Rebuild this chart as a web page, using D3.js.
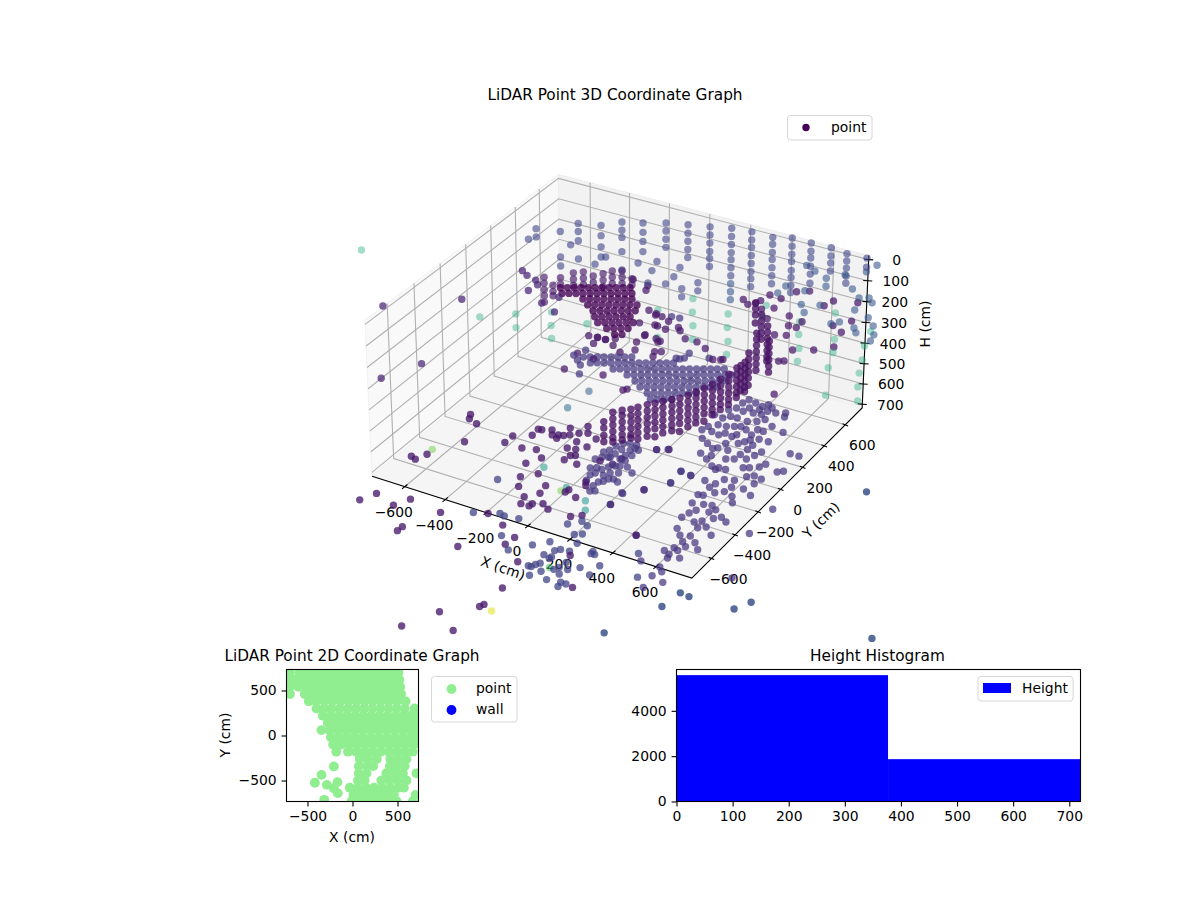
<!DOCTYPE html>
<html>
<head>
<meta charset="utf-8">
<style>
body { margin: 0; background: #fff; }
text { font-family: "DejaVu Sans", sans-serif; fill: #000; }
</style>
<script src="https://cdn.jsdelivr.net/npm/d3@7"></script>
</head>
<body>
<svg id="chart" width="1200" height="900"></svg>
<script>
// tick values
const xyTicks = [-600, -400, -200, 0, 200, 400, 600]
const hTicks = [0, 100, 200, 300, 400, 500, 600, 700]
const planTicks = [-500, 0, 500]
const histXTicks = [0, 100, 200, 300, 400, 500, 600, 700]
const histYTicks = [0, 2000, 4000]

// histogram: bin edges and counts
const histEdges = [0, 377, 720]
const histCounts = [5574, 1868]

// plane heights (cm) used by the lists of [x, y] pairs below
const floorH = 700
const midH = 400
const topH = 100

// columns of scan points: [x, y, [heights]]
const wallColumns = [
  [-402,700,[94,134,169,239,329]],[-296,700,[72,117,161,211]],[-181,700,[42,81,121,160]],
  [-72,700,[23,63,102,142,181]],[36,700,[5,44,83,123,157,196]],[120,740,[8,47,86,125,159,198,237]],
  [218,740,[0,39,74,113,152,191,225,264]],[319,740,[0,33,72,106,145,184,223]],
  [392,780,[2,41,80,114,157,191,230,264]],[483,780,[2,41,74,113,151,195]],[578,780,[0,39,73,111]],
  [653,780,[9,43,77,115,149]],[747,780,[5,48]],[-508,700,[138,188,243,293]],[-625,700,[158,198,243,334]],
  [-718,700,[222,348,393]],[-665,700,[274]],[-844,700,[240,281]],[-885,700,[303]],[-540,700,[337]],
  [-485,700,[287]],[-100,700,[341,381]],[-20,700,[290,330]],[-110,700,[240]],[-140,700,[293]],
  [-181,700,[339]],[-225,700,[241]],[-250,700,[292]],[-270,700,[358]],[-320,700,[273]]
]
const wallBluePoints = [
  [120,740,[276,315,354]],[368,780,[239]],[330,780,[283]],[460,780,[237]],[445,780,[308]],[460,780,[343]],
  [535,780,[287]],[560,780,[189,150]],[465,780,[114]],[505,780,[131]],[648,780,[110]],[685,780,[168]],
  [718,780,[202]],[765,780,[189]],[780,780,[209]],[630,780,[342]],[590,780,[362]],[700,780,[265,352]],
  [710,780,[373]],[765,780,[285]],[790,780,[317]],[795,780,[359,26]],[780,780,[393]],[747,780,[70]]
]
// mint coloured far points at mid height
const mintPoints = [
  [-1582,393],[-788,134],[-666,234],[-602,132],[-540,327],[-480,223],[-420,127],[-354,314],[-148,573],[-31,362],
  [-66,741],[-9,633],[51,529],[108,422],[134,696],[188,588],[248,483],[296,381],[241,848],[274,748],[435,790],
  [483,688],[539,581],[585,478],[635,727],[681,622],[722,496],[815,287],[739,867],[772,740],[817,627],[855,521],
  [901,415],[952,310],[534,937]
]
// odd coloured points: [x, y, h, colour value]
const accentPoints = [
  [-645,-482,700,.8],[-162,-369,700,.55],[-5,-492,700,.8],[1,-458,700,.5],[121,-507,700,.5],[158,-570,700,.5],
  [249,-1005,700,.7],[-326,99,700,.35],[-318,267,700,.3],[212,-1380,700,.95]
]
// purple points on the floor level
const floorPurple = [
  [-687,-966],[-655,-890],[-544,-931],[-509,-857],[-347,-880],[-424,-1083],[-423,-1048],[-149,-1059],[-174,-790],
  [-76,-834],[14,-888],[8,-950],[118,-1033],[164,-1223],[401,-1081],[39,-1486],[155,-1377],[162,-1356],[-35,-1641],
  [154,-1567],[-659,-158],[-644,-191],[-595,-211],[-560,-362],[-691,-573],[-664,-584],[-643,-526],[-409,-281],
  [-408,-219],[-339,-173],[-343,-117],[-327,-114],[-323,-283],[-263,-264],[-244,-380],[-209,-311],[-208,-482],
  [-156,-425],[-175,-550],[-81,-489],[-71,-551],[-113,-607],[-97,-659],[-59,-657],[-56,-636],[-18,-614],[21,-639],
  [-289,-93],[-267,-128],[-244,-115],[-236,-142],[-222,-108],[-229,-41],[-202,-90],[-175,-59],[-170,8],[-142,-40],
  [-89,-138],[-88,-63],[-157,-187],[-148,-124],[-120,-179],[-114,-233],[-96,-222],[-119,-275],[-55,-280],[49,-381],
  [63,-405],[19,-469],[15,-491],[74,-506],[130,-641],[166,-610],[224,-480],[431,-629],[276,-889],
  [16,-207],[75,-205],[87,-149],[289,-313],[177,-10],[222,17]
]
// blue points around the front of the floor
const floorBlue = [
  [-230,-814],[-132,-765],[-107,-772],[-45,-760],[-39,-903],[40,-979],[105,-899],[154,-844],[148,-695],[212,-749],
  [188,-648],[224,-666],[238,-729],[255,-799],[258,-864],[170,-1037],[183,-1036],[190,-1015],[201,-997],[182,-937],
  [215,-950],[217,-936],[204,-890],[220,-871],[234,-1045],[284,-1085],[209,-1092],[271,-1008],[282,-985],[288,-940],
  [319,-981],[307,-1026],[342,-1073],[348,-1104],[366,-1073],[355,-945],[415,-972],[416,-894],[340,-818],[342,-836],
  [358,-835],[-279,-548],[587,-890],[506,-740]
]
// patch in the middle of the floor
const floorPatch = [
  [8,-276],[47,-301],[57,-263],[71,-232],[91,-211],[81,-153],[86,-117],[83,-71],[94,-48],[94,-355],[109,-340],
  [119,-314],[137,-304],[163,-316],[99,-433],[117,-422],[-9,-205],[-7,-139],[8,-114],[15,-71],[31,-37],[55,-23],
  [86,-21],[38,-161],[42,-126],[49,-83],[140,-193],[180,-224],[220,-378],[8,-178],[32,-262],[87,-301],[44,-368],
  [90,-390],[109,-201],[32,-164],[131,-252],[107,-154],[36,-324],[101,-270],[110,-103],[113,-53],
  [351,-110],[402,-119],[358,-212]
]
// right side patch of the floor
const floorRight = [
  [473,510],[510,531],[521,499],[575,382],[511,403],[498,347],[556,283],[513,281],[570,195],[631,117],[512,225],
  [509,183],[558,155],[541,113],[502,132],[562,45],[585,58],[618,84],[633,11],[670,3],[608,-10],[497,87],[466,70],
  [440,136],[452,207],[469,233],[483,257],[471,347],[468,297],[428,323],[413,266],[406,180],[394,132],[378,116],
  [396,29],[400,64],[352,58],[300,167],[339,142],[442,-8],[474,-6],[505,-4],[468,-25],[577,-60],[538,-76],[472,-124],
  [514,-160],[522,-124],[583,-159],[593,-115],[642,-102],[661,-43],[691,-132],[628,-176],[653,-219],[553,-187],
  [500,-234],[521,-228],[510,-302],[551,-343],[556,-288],[590,-278],[603,-329],[619,-300],[666,-338],[699,-360],
  [642,-362],[536,-375],[526,-419],[550,-501],[611,-402],[587,-425],[620,-455],[647,-433],[694,-477],[585,-540],
  [624,-524],[617,-576],[664,-558],[645,-602],[698,-597],[609,-632],[631,-642],[585,-669],[615,-684],[623,-711],
  [665,-687],[541,-782],[628,-783],[651,-808],[632,-852],[692,-872],[643,-942],[219,15],[350,-110],[402,-119],
  [357,-210],[288,-314],[226,-382],[226,-480],[432,-628],[177,-10],[819,-179],[822,-388],[914,-707],[681,243],
  [722,244],[701,86],[721,105],
  [321,551],[359,541],[397,530],[414,556],[345,452],[389,461],[426,467],[349,390],[400,386],[436,407],[459,438],
  [318,388],[295,359],[305,299],[342,305],[372,322],[396,336],[308,237],[347,227],[364,253],[402,243],[265,228],
  [251,365],[275,266],[399,499],[436,505],[440,539],[310,513],[307,462],[284,433],[356,490]
]
// far points well outside the box, a bit bluer
const floorFar = [
  [1093,133],[788,-902],[830,-908],[772,-1021],[1024,-895],[1060,-821],[667,-1289],[1578,-806]
]
// fan shaped sheet at mid height
const fanPoints = [
  [-220,57],[-195,72],[-169,87],[-144,101],[-118,116],[-93,131],[-68,145],[-42,160],
  [-169,29],[-144,44],[-118,58],[-93,73],[-67,88],[-42,102],[-17,117],[9,132],[34,147],[60,161],[85,176],[110,191],[136,205],
  [-60,33],[-35,48],[-9,62],[16,77],[42,92],[67,107],[92,121],[118,136],[143,151],[169,165],[194,180],[219,195],[245,209],[270,224],[296,239],[321,253],[346,268],
  [16,19],[41,34],[67,48],[92,63],[118,78],[143,92],[168,107],[194,122],[219,137],[245,151],[270,166],[295,181],[321,195],[346,210],[372,225],[397,239],
  [70,-8],[95,7],[121,21],[146,36],[171,51],[197,65],[222,80],[248,95],[273,110],[298,124],[324,139],[349,154],[375,168],[400,183],
  [113,-41],[138,-26],[164,-12],[189,3],[215,18],[240,32],[265,47],[291,62],[316,77],[342,91],[367,106],[392,121],
  [164,-70],[189,-55],[215,-41],[240,-26],[265,-11],[291,3],[316,18],[342,33],
  [200,-107],[225,-92],[251,-78],[276,-63],
  [-264,51],[-229,23],[-197,-7],[-241,112],[-162,-74],[154,310],[142,248],[126,246],[156,264],[247,316],[-31,559],[-68,553]
]
// purple points at mid height
const midPurple = [
  [-238,-70],[-71,-32],[-174,64],[-259,74],[64,-99],[75,-83],[-106,171],[-161,207],[-215,234],[-294,228],[-253,233],
  [-242,180],[-255,235],[-215,236],[-182,262],[-89,283],[-60,219],[19,249],[44,263],[34,209],[135,413],[193,381],[296,329],
  [-10,329],[-30,349],[-87,349],[-161,435],[-181,553],[-135,530],[-104,532],[-59,510],[25,462],[78,412],[5,483],
  [-80,450],[-36,442],[129,845],[167,816],[192,841],[200,874],[211,940],[269,935],[239,808],[282,843],[300,745],
  [372,814],[409,735],[444,795],[446,737],[394,634],[440,655],[522,555],[600,600],[663,666],[299,1025],[346,1059],
  [478,1030],[462,971],[575,832],[627,908],[633,797],[514,441],[534,453],[626,187],[577,1070],[-138,542],[-4,339],
  [-297,747],[-282,705],[-381,763],[-94,452],[-88,356],[266,314],[303,336]
]
// purple points near the top of the box
const topPurple = [
  [-457,65],[-429,34],[-436,-29],[-331,-94],[-550,109],[-511,83],[-294,-15],[-245,-133],[-638,-233],[-891,-448],
  [-488,-771],[-564,-950]
]
// stacks above the dark cluster: [x, y, [heights]]
const topStacks = [
  [-382,11,[41,70,100,129,159]],[-346,23,[75,104,125]],[-362,111,[85,115]],[-323,152,[70,100,130]],
  [-291,181,[70,100,130]],[-250,194,[85,115]],[-210,208,[70,100,130]],[-189,249,[70,100,130]],
  [-153,270,[70,100,130]],[-96,255,[85,115]]
]
// dark cluster near the top
const darkCluster = [
  [-332,60],[-307,75],[-281,89],[-256,104],[-230,119],[-205,133],[-180,148],[-154,163],[-129,178],[-103,192],[-78,207],
  [-300,20],[-275,35],[-249,49],[-224,64],[-198,79],[-173,94],[-148,108],[-122,123],[-97,138],[-71,152],[-46,167],
  [-199,21],[-174,36],[-148,50],[-123,65],[-97,80],[-72,95],[-47,109],[-21,124],
  [-156,-12],[-131,3],[-105,17],[-80,32],[-54,47],[-29,61],[-4,76],[22,91],
  [-111,-45],[-86,-30],[-60,-16],[-35,-1],[-9,14],[16,28],[41,43],
  [-79,-85],[-54,-70],[-28,-56],[-3,-41],[23,-26],[48,-12],
  [-43,-122],[-18,-107],[8,-93],[33,-78],[59,-63],[84,-49],
  [14,-146],[39,-131],[65,-117],[90,-102],[68,-174],[94,-159]
]
// the curved arm: stacks of [x, y, [heights]]
const armStacks = [
  [166,-432,[350,380,415,445]],[178,-379,[330,360,390,420,450,470]],[203,-346,[330,355,385,415,445,470]],
  [230,-321,[330,360,390,420,450,466]],[251,-300,[325,355,385,415,445,475]],[276,-267,[322,352,382,412,442,472]],
  [300,-245,[320,350,380,410,440,478]],[320,-214,[320,350,380,410,440,470]],[344,-181,[322,352,382,412,442,470]],
  [368,-158,[320,350,380,410,440,478]],[386,-120,[320,350,380,410,440,470]],[399,-76,[322,352,382,412,442,470]],
  [417,-38,[320,350,380,410,440,476]],[426,16,[325,355,385,415,445,470]],[436,69,[325,355,385,415,445,470]],
  [446,122,[325,355,385,415,445,470]],[447,190,[328,358,388,418,448,470]],[446,228,[335,365,395,425,455]],
  [453,252,[330,360,390,420,450,470]],[438,313,[320,350,380,410,440,475]],[395,465,[310,340,370,400,430,460,490]],
  [398,559,[320,350,380,410,440,470,490]],[457,462,[330,360,390,420,450,480]],[313,666,[340,370,400,430,460]],
  [232,765,[350,380,410,450]]
]
// 2D plan view: [y, [x values]] plus isolated points
const planRows = [
  [700,[-695,-590,-495,-405,-315,-225,-135,-45,45,135,225,315,405,495,510]],
  [620,[-690,-630,-540,-450,-360,-270,-180,-90,0,90,180,270,360,450,520]],
  [540,[-695,-600,-505,-415,-325,-235,-145,-55,35,125,215,305,395,485,530]],
  [460,[-695,-530,-450,-360,-270,-180,-90,0,90,180,270,360,450,540]],
  [380,[-485,-405,-315,-225,-135,-45,45,135,225,315,405,495,590]],
  [300,[-400,-315,-230,-140,-50,40,130,220,310,400,490,580,690]],
  [220,[-330,-240,-150,-60,30,120,210,300,390,480,570,650,700]],
  [140,[-275,-195,-105,-15,75,165,255,345,435,525,615,700]],
  [60,[-345,-255,-165,-75,15,105,195,285,375,465,555,645,730]],
  [-20,[-240,-150,-60,30,120,210,300,390,480,570,660,730]],
  [-100,[-215,-125,-35,55,145,235,325,415,505,595,685]],
  [-180,[-180,-50,40,130,220,310,400,490,580,670]],
  [-260,[80,170,270,420,510,600]],
  [-340,[70,160,230,414,490,580]],
  [-420,[70,157,376,470,560,710]],
  [-500,[60,135,320,410,500,600]],
  [-580,[-30,60,150,240,330,420,510,570]],
  [-660,[10,100,190,280,370,460,700]],
  [-730,[-10,80,170,260,340,430,490,670]]
]
const planSingles = [
  [-207,-344],[-344,-437],[-418,-525],[-285,-548],[-167,-518],[-207,-585],[-163,-640],[-315,-714]
]

const svg = d3.select('#chart')

// ---- 3D projection, camera at elev 30, azim -60, dist 10 ----
const xLim = [-763, 763]
const yLim = [-763, 763]
const hLim = [-19, 719] // inverted axis, h=719 is the floor
const worldX = d3.scaleLinear().domain(xLim).range([-.5714, .5714])
const worldY = d3.scaleLinear().domain(yLim).range([-.5714, .5714])
const worldH = d3.scaleLinear().domain(hLim).range([.28, -.28])
const screenX = d3.scaleLinear().domain([0, 1]).range([621.5, 3803.5])
const screenY = d3.scaleLinear().domain([0, 1]).range([365.5, -2814.5])

function project(x, y, h) {
  let rx = worldX(x), ry = worldY(y), rz = worldH(h)
  let u = .866 * rx + .5 * ry
  let v = -.25 * rx + .433 * ry + .866 * rz
  let depth = 10 - (.433 * rx - .75 * ry + .5 * rz)
  return [screenX(u / depth), screenY(v / depth), depth]
}
function poly(pts) {
  return pts.map(p => project(p[0], p[1], p[2]).slice(0, 2).join(',')).join(' ')
}

const [x0, x1] = xLim, [y0, y1] = yLim
const hTop = hLim[0], hBot = hLim[1]

// panes
const panes = svg.append('g')
panes.append('polygon').attr('points', poly([[x0,y0,hBot],[x0,y1,hBot],[x0,y1,hTop],[x0,y0,hTop]]))
  .attr('fill', '#f9f9f9').attr('stroke', '#f1f1f1').attr('stroke-width', 1)
panes.append('polygon').attr('points', poly([[x0,y1,hBot],[x1,y1,hBot],[x1,y1,hTop],[x0,y1,hTop]]))
  .attr('fill', '#f2f2f2').attr('stroke', '#eeeeee').attr('stroke-width', 1)
panes.append('polygon').attr('points', poly([[x0,y0,hBot],[x1,y0,hBot],[x1,y1,hBot],[x0,y1,hBot]]))
  .attr('fill', '#f5f5f5').attr('stroke', '#f1f1f1').attr('stroke-width', 1)

// grid lines
const grid = svg.append('g').attr('fill', 'none').attr('stroke', '#b0b0b0').attr('stroke-width', 1.1)
xyTicks.forEach(t => {
  grid.append('polyline').attr('points', poly([[t,y0,hBot],[t,y1,hBot],[t,y1,hTop]]))
  grid.append('polyline').attr('points', poly([[x1,t,hBot],[x0,t,hBot],[x0,t,hTop]]))
})
hTicks.forEach(t => {
  grid.append('polyline').attr('points', poly([[x0,y0,t],[x0,y1,t],[x1,y1,t]]))
})

// axis lines, ticks and labels
const axes3d = svg.append('g')
axes3d.append('polyline').attr('points', poly([[x0,y0,hBot],[x1,y0,hBot],[x1,y1,hBot],[x1,y1,hTop]]))
  .attr('fill', 'none').attr('stroke', '#000').attr('stroke-width', 1.1)
function tick3d(p, dx, dy, lx, ly, label) {
  let [sx, sy] = project(p[0], p[1], p[2])
  axes3d.append('line').attr('x1', sx - dx).attr('y1', sy - dy).attr('x2', sx + dx).attr('y2', sy + dy)
    .attr('stroke', '#000').attr('stroke-width', 1.1)
  axes3d.append('text').attr('x', sx + lx).attr('y', sy + ly).attr('text-anchor', 'middle')
    .attr('dominant-baseline', 'central').attr('font-size', 13.9).text(label)
}
const fmt = d3.format('d')
xyTicks.forEach(t => tick3d([t, y0, hBot], 2.7, -2.2, -11, 25, fmt(t)))
xyTicks.forEach(t => tick3d([x1, t, hBot], 2.8, 1.1, 17, 20.5, fmt(t)))
hTicks.forEach(t => tick3d([x1, y1, t], 4.5, 0.3, 28, 0.5, fmt(t)))

function axisLabel(x, y, angle, label) {
  svg.append('text').attr('transform', `translate(${x},${y}) rotate(${angle})`)
    .attr('text-anchor', 'middle').attr('dominant-baseline', 'central')
    .attr('font-size', 13.9).text(label)
}
axisLabel(503, 568, 19, 'X (cm)')
axisLabel(821, 520, -44, 'Y (cm)')
axisLabel(925, 324, -90, 'H (cm)')

// ---- scatter ----
const cloud = []
function addPairs(pairs, h, v, a) {
  pairs.forEach(p => cloud.push({ x: p[0], y: p[1], h: h, v: v, a: a }))
}
function addColumns(cols, v, a) {
  cols.forEach(c => c[2].forEach(h => cloud.push({ x: c[0], y: c[1], h: h, v: v, a: a })))
}
addColumns(wallColumns, .21, .6)
addColumns(wallBluePoints, .27, .6)
addPairs(mintPoints, midH, .62, .42)
accentPoints.forEach(p => cloud.push({ x: p[0], y: p[1], h: p[2], v: p[3], a: .55 }))
addPairs(floorPurple, floorH, .07, .78)
addPairs(floorBlue, floorH, .2, .75)
addPairs(floorPatch, floorH, .16, .72)
addPairs(floorRight, floorH, .15, .72)
addPairs(floorFar, floorH, .25, .85)
addPairs(fanPoints, midH, .16, .72)
addPairs(midPurple, midH, .06, .72)
addPairs(topPurple, topH, .1, .72)
addColumns(topStacks, .07, .65)
addPairs(darkCluster, topH, 0, .78)
addColumns(armStacks, .045, .78)

cloud.forEach(d => { [d.sx, d.sy, d.depth] = project(d.x, d.y, d.h) })
cloud.sort((a, b) => b.depth - a.depth)

svg.append('g').selectAll('circle').data(cloud).join('circle')
  .attr('cx', d => d.sx).attr('cy', d => d.sy).attr('r', 3.7)
  .attr('fill', d => d3.interpolateViridis(d.v)).attr('fill-opacity', d => d.a)

// title and legend of the 3D graph
function title(x, y, label) {
  svg.append('text').attr('x', x).attr('y', y).attr('text-anchor', 'middle')
    .attr('font-size', 15.3).text(label)
}
title(615, 100, 'LiDAR Point 3D Coordinate Graph')
function legendBox(x, y, w, h) {
  svg.append('rect').attr('x', x).attr('y', y).attr('width', w).attr('height', h).attr('rx', 3)
    .attr('fill', '#fff').attr('fill-opacity', .8).attr('stroke', '#d6d6d6').attr('stroke-width', 1)
}
function legendText(x, y, label) {
  svg.append('text').attr('x', x).attr('y', y).attr('font-size', 13.9).text(label)
}
legendBox(787.5, 115.5, 84.5, 24.5)
svg.append('circle').attr('cx', 806).attr('cy', 127.5).attr('r', 3.7).attr('fill', d3.interpolateViridis(0))
legendText(831, 132, 'point')

// ---- 2D plan graph ----
const planX = d3.scaleLinear().domain([-733, 733]).range([286.5, 418.5])
const planY = d3.scaleLinear().domain([-733, 733]).range([801.5, 669.5])
svg.append('clipPath').attr('id', 'planClip').append('rect')
  .attr('x', 286.5).attr('y', 669.5).attr('width', 132).attr('height', 132)
const planG = svg.append('g').attr('clip-path', 'url(#planClip)')
const planPoints = []
planRows.forEach(r => r[1].forEach(x => planPoints.push([x, r[0]])))
planSingles.forEach(p => planPoints.push(p))
planG.selectAll('circle').data(planPoints).join('circle')
  .attr('cx', d => planX(d[0])).attr('cy', d => planY(d[1])).attr('r', 4.9).attr('fill', 'lightgreen')

function frame(x, y, w, h) {
  svg.append('rect').attr('x', x).attr('y', y).attr('width', w).attr('height', h)
    .attr('fill', 'none').attr('stroke', '#000').attr('stroke-width', 1.1)
}
function styleAxis(g) {
  g.selectAll('path').attr('stroke', 'none')
  g.selectAll('line').attr('stroke', '#000').attr('stroke-width', 1.1)
  g.selectAll('text').attr('font-size', 13.9).attr('font-family', '"DejaVu Sans", sans-serif').attr('fill', '#000')
}
svg.append('g').attr('transform', 'translate(0,801.5)')
  .call(d3.axisBottom(planX).tickValues(planTicks).tickFormat(fmt).tickSize(4.9).tickPadding(4.9))
  .call(styleAxis)
svg.append('g').attr('transform', 'translate(286.5,0)')
  .call(d3.axisLeft(planY).tickValues(planTicks).tickFormat(fmt).tickSize(4.9).tickPadding(4.9))
  .call(styleAxis)
frame(286.5, 669.5, 132, 132)
title(352, 660.5, 'LiDAR Point 2D Coordinate Graph')
axisLabel(352, 837, 0, 'X (cm)')
axisLabel(225, 735, -90, 'Y (cm)')

legendBox(431.5, 676.5, 85.5, 45.5)
svg.append('circle').attr('cx', 451.5).attr('cy', 689).attr('r', 4.9).attr('fill', 'lightgreen')
svg.append('circle').attr('cx', 451.5).attr('cy', 710).attr('r', 4.9).attr('fill', 'blue')
legendText(476, 693, 'point')
legendText(476, 714, 'wall')

// ---- height histogram ----
const histX = d3.scaleLinear().domain([0, 720]).range([676.5, 1080.5])
const histY = d3.scaleLinear().domain([0, 5823]).range([801.5, 669.5])
svg.append('g').selectAll('rect').data(histCounts).join('rect')
  .attr('x', (d, i) => histX(histEdges[i]))
  .attr('y', d => histY(d))
  .attr('width', (d, i) => histX(histEdges[i + 1]) - histX(histEdges[i]))
  .attr('height', d => histY(0) - histY(d))
  .attr('fill', 'blue')
svg.append('g').attr('transform', 'translate(0,801.5)')
  .call(d3.axisBottom(histX).tickValues(histXTicks).tickFormat(fmt).tickSize(4.9).tickPadding(4.9))
  .call(styleAxis)
svg.append('g').attr('transform', 'translate(676.5,0)')
  .call(d3.axisLeft(histY).tickValues(histYTicks).tickFormat(fmt).tickSize(4.9).tickPadding(4.9))
  .call(styleAxis)
frame(676.5, 669.5, 404, 132)
title(877.5, 660.5, 'Height Histogram')

legendBox(978, 676.5, 95, 24.5)
svg.append('rect').attr('x', 983).attr('y', 683).attr('width', 28).attr('height', 10).attr('fill', 'blue')
legendText(1022, 693, 'Height')
</script>
</body>
</html>
